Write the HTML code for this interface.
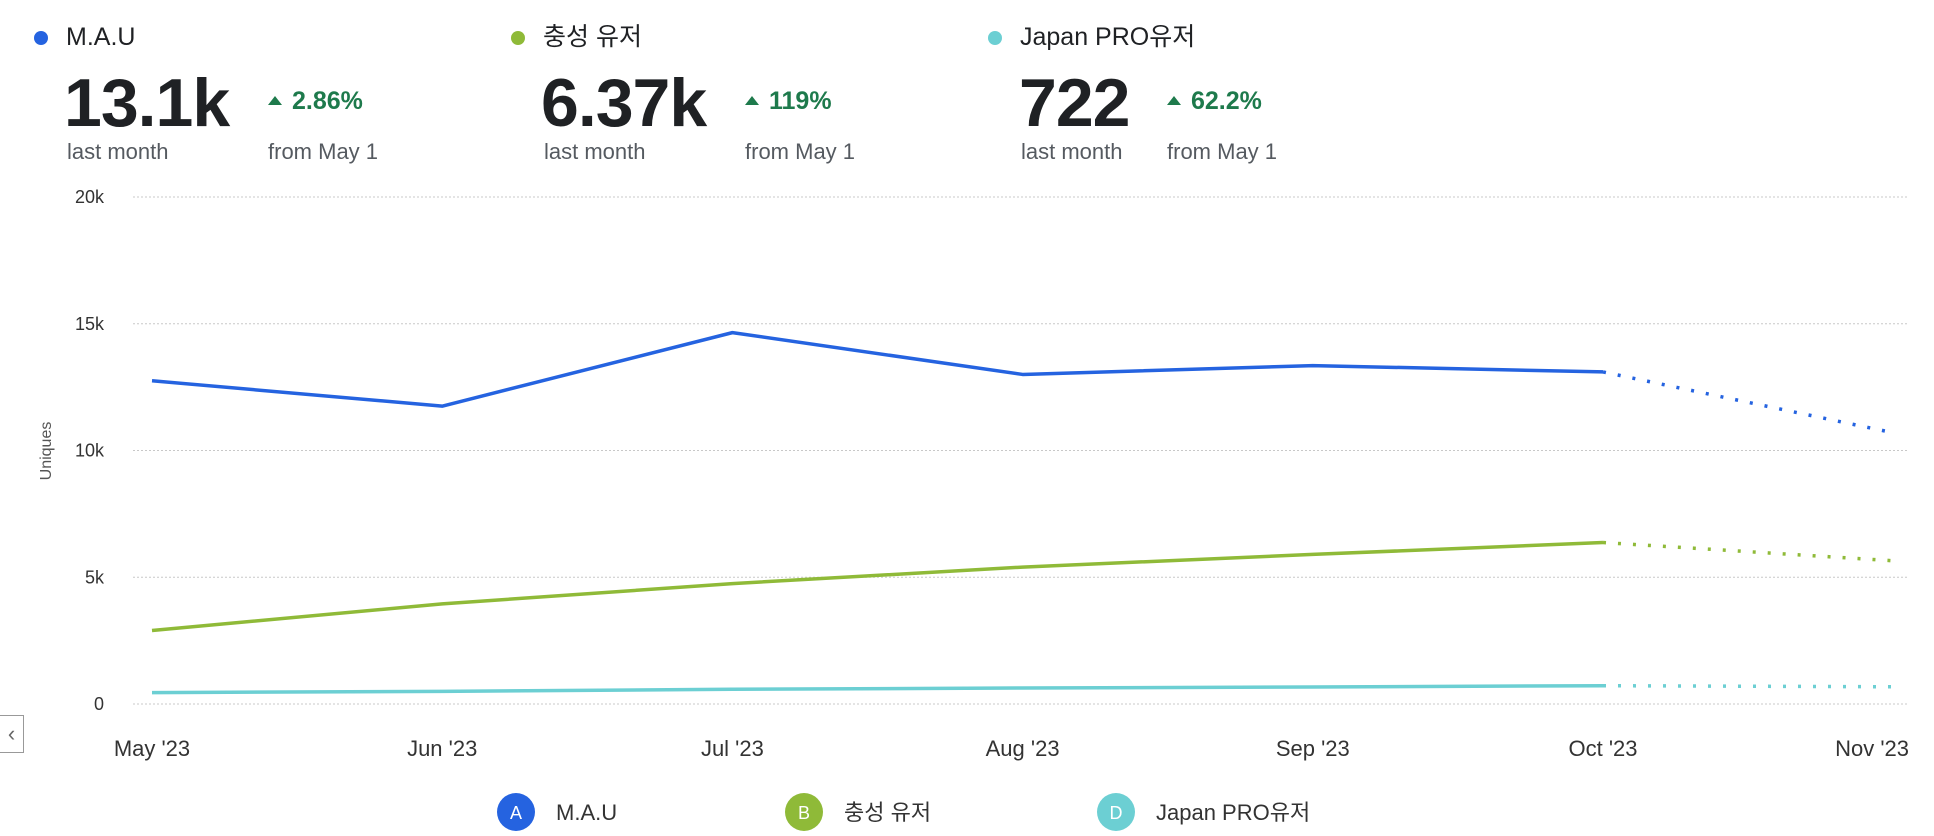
<!DOCTYPE html>
<html><head><meta charset="utf-8"><style>
body{margin:0;width:1934px;height:836px;background:#fff;font-family:"Liberation Sans","Noto Sans CJK KR",sans-serif;color:#1f2124;overflow:hidden;position:relative}
.a{position:absolute;white-space:nowrap}
.dot{position:absolute;width:14px;height:14px;border-radius:50%}
.lbl{font-size:25px;color:#1f2124;line-height:30px;height:30px}
.big{font-size:68px;font-weight:bold;letter-spacing:-1px;color:#1f2124;line-height:80px}
.sub{font-size:22px;color:#555a60;line-height:26px}
.pct{font-size:25px;font-weight:bold;color:#1e7a4c;line-height:30px}
.tri{display:inline-block;width:0;height:0;border-left:7px solid transparent;border-right:7px solid transparent;border-bottom:9px solid #1e7a4c;margin-right:10px;vertical-align:4px}
</style></head><body>
<div>
<div class="dot" style="left:34px;top:31px;background:#2563e0"></div>
<div class="a lbl" style="left:66px;top:22px">M.A.U</div>
<div class="a big" style="left:64px;top:63px">13.1k</div>
<div class="a pct" style="left:268px;top:86px"><span class="tri"></span>2.86%</div>
<div class="a sub" style="left:67px;top:139px">last month</div>
<div class="a sub" style="left:268px;top:139px">from May 1</div>
</div>
<div>
<div class="dot" style="left:511px;top:31px;background:#8fba38"></div>
<div class="a lbl" style="left:543px;top:22px">충성 유저</div>
<div class="a big" style="left:541px;top:63px">6.37k</div>
<div class="a pct" style="left:745px;top:86px"><span class="tri"></span>119%</div>
<div class="a sub" style="left:544px;top:139px">last month</div>
<div class="a sub" style="left:745px;top:139px">from May 1</div>
</div>
<div>
<div class="dot" style="left:988px;top:31px;background:#6ccfd3"></div>
<div class="a lbl" style="left:1020px;top:22px">Japan PRO유저</div>
<div class="a big" style="left:1019px;top:63px">722</div>
<div class="a pct" style="left:1167px;top:86px"><span class="tri"></span>62.2%</div>
<div class="a sub" style="left:1021px;top:139px">last month</div>
<div class="a sub" style="left:1167px;top:139px">from May 1</div>
</div>
<div class="a" style="left:0;top:715px;width:24px;height:38px;border:1px solid #999;border-left:none;box-sizing:border-box;font-size:22px;color:#666;line-height:36px;text-align:center">‹</div>
<svg id="chart" width="1934" height="836" style="position:absolute;left:0;top:0"></svg>
<script>
const categories=["May '23","Jun '23","Jul '23","Aug '23","Sep '23","Oct '23","Nov '23"];
const yTicks=[0,5000,10000,15000,20000];
const yTickLabels=["0","5k","10k","15k","20k"];
const mau=[12750,11750,14650,13000,13350,13100,10700];
const loyal=[2900,3950,4750,5400,5900,6370,5650];
const japan=[450,500,580,630,670,722,680];
const NS="http://www.w3.org/2000/svg";
const svg=document.getElementById('chart');
const x0=152,dx=290.2,yBase=704,yTop=197;
const X=i=>x0+i*dx;
const Y=v=>yBase-(v/20000)*(yBase-yTop);
function mk(t,a){const e=document.createElementNS(NS,t);for(const k in a)e.setAttribute(k,a[k]);svg.appendChild(e);return e;}
yTicks.forEach((v,i)=>{
 const g=mk('line',{x1:133,x2:1909,y1:Y(v),y2:Y(v),stroke:'#c8c8c8','stroke-width':1,'stroke-dasharray':'2,2'});
 
 
 const t=mk('text',{x:104,y:Y(v)+6,'text-anchor':'end','font-size':18,fill:'#333','font-family':'Liberation Sans, sans-serif'});
 t.textContent=yTickLabels[i];
 
 
});
const yt=mk('text',{x:0,y:0,transform:'translate(51,451) rotate(-90)','text-anchor':'middle','font-size':16,fill:'#555','font-family':'Liberation Sans, sans-serif'});
yt.textContent='Uniques';


categories.forEach((c,i)=>{
 let anchor='middle',xx=X(i);
 if(i==categories.length-1){anchor='end';xx=1909;}
 const t=mk('text',{x:xx,y:756,'text-anchor':anchor,'font-size':22,fill:'#333','font-family':'Liberation Sans, sans-serif'});
 t.textContent=c;
 
 
});
function series(d,col,name){
 const n=d.length;
 const solid=d.slice(0,n-1).map((v,i)=>X(i)+','+Y(v)).join(' ');
 const p=mk('polyline',{points:solid,fill:'none',stroke:col,'stroke-width':3.5,'stroke-linejoin':'round'});
 
 
 const q=mk('line',{x1:X(n-2),y1:Y(d[n-2]),x2:X(n-1),y2:Y(d[n-1]),stroke:col,'stroke-width':3.5,'stroke-dasharray':'3,12'});
 
 
}
series(mau,'#2563e0','mau');
series(loyal,'#8fba38','loyal');
series(japan,'#6ccfd3','japan');
const leg=[["A","M.A.U","#2563e0",516],["B","충성 유저","#8fba38",804],["D","Japan PRO유저","#6ccfd3",1116]];
leg.forEach(l=>{
 const c=mk('circle',{cx:l[3],cy:812,r:19,fill:l[2]});
 
 
 const t=mk('text',{x:l[3],y:819,'text-anchor':'middle','font-size':18,fill:'#fff','font-family':'Liberation Sans, sans-serif'});
 t.textContent=l[0];
 
 
 const t2=mk('text',{x:l[3]+40,y:820,'font-size':22,fill:'#333','font-family':'Liberation Sans, Noto Sans CJK KR, sans-serif'});
 t2.textContent=l[1];
 
 
});
</script>
</body></html>
